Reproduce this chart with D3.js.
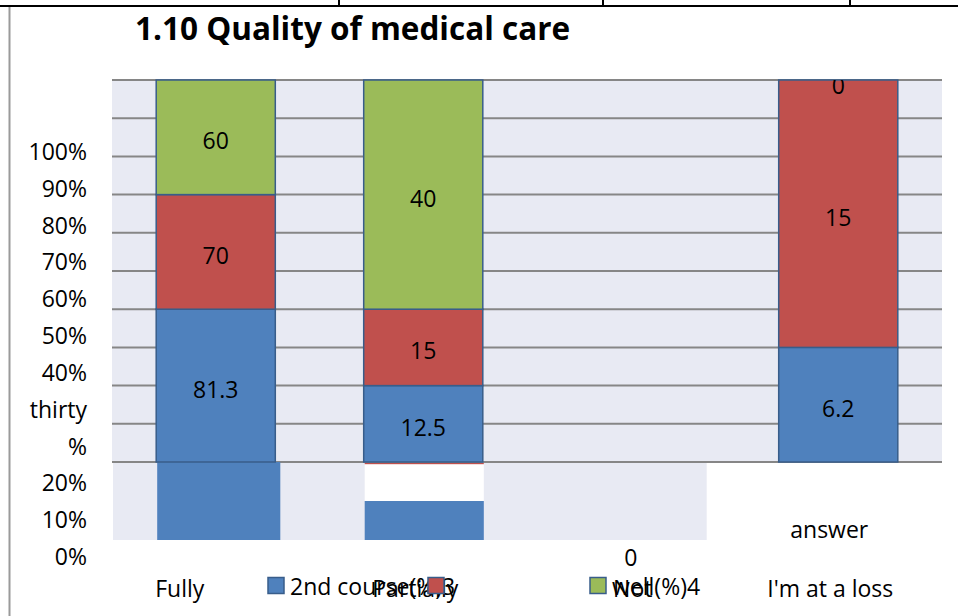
<!DOCTYPE html>
<html>
<head>
<meta charset="utf-8">
<script src="https://cdn.jsdelivr.net/npm/d3@7"></script>
<style>
  body { margin: 0; background: #fff; }
  text { font-family: 'Open Sans', sans-serif; fill: #000; }
</style>
</head>
<body>
<div id="chart"></div>
<script>
// data labels printed on the segments
const categories = ['Fully', 'Partially', 'Not', "I'm at a loss"];
const secondCourse = [81.3, 12.5, 0, 6.2];
const thirdCourse = [70, 15, 0, 15];
const fourthCourse = [60, 40, 0, 0];
// segment heights in % as drawn in the picture
const secondShare = [40, 20, 0, 30];
const thirdShare = [30, 20, 0, 70];
const fourthShare = [30, 60, 0, 0];
const seriesNames = ['2nd course(%)3', '', 'well(%)4'];
const yTickLabels = [['100%'], ['90%'], ['80%'], ['70%'], ['60%'], ['50%'], ['40%'], ['thirty', '%'], ['20%'], ['10%'], ['0%']];
// blue part still visible in the torn lower strip (0..20)
const lowerStrip = [20, 10, 0, 0];
const extraLabels = ['0', 'answer'];

const W = 958, H = 616;
const COLORS = ['#4F81BD', '#C0504D', '#9BBB59'];
const EDGE = '#385D8A';
const BG = '#E8EAF3';
const GRID = '#868686';

let svg = d3.select('#chart')
    .append('svg')
    .attr('width', W)
    .attr('height', H);

// frame lines of the scanned page
svg.append('line').attr('x1', 0).attr('x2', W).attr('y1', 6).attr('y2', 6)
    .attr('stroke', '#000').attr('stroke-width', 2);
[339, 603, 850].forEach(function (x) {
    svg.append('line').attr('x1', x).attr('x2', x).attr('y1', 0).attr('y2', 6)
        .attr('stroke', '#000').attr('stroke-width', 2);
});
svg.append('line').attr('x1', 9.5).attr('x2', 9.5).attr('y1', 7).attr('y2', H)
    .attr('stroke', '#9a9a9a').attr('stroke-width', 2);

svg.append('text')
    .attr('x', 135).attr('y', 40)
    .style('font-weight', 'bold').style('font-size', '31.5px')
    .text('1.10 Quality of medical care');

// scales
let x = d3.scalePoint().domain(categories).range([112, 942]).padding(0.5);
let step = x.step();
let barW = step * 0.574;
let y = d3.scaleLinear().domain([0, 100]).range([462, 80]);
let yLow = d3.scaleLinear().domain([0, 20]).range([540, 462]);

// upper panel
svg.append('rect').attr('x', 112).attr('y', 80).attr('width', 830).attr('height', 382).attr('fill', BG);
svg.append('g').selectAll('line')
    .data(y.ticks(10))
    .join('line')
    .attr('x1', 112).attr('x2', 942)
    .attr('y1', (d) => y(d)).attr('y2', (d) => y(d))
    .attr('stroke', GRID).attr('stroke-width', 2);

// lower strip
svg.append('rect').attr('x', 113).attr('y', 463)
    .attr('width', x('Not') + step * 0.366 - 113).attr('height', 77).attr('fill', BG);
categories.forEach(function (c, i) {
    if (lowerStrip[i] <= 0) return;
    let lx = x(c) - barW / 2 + 1;
    let lw = barW + (i === 0 ? 4 : 0);
    if (lowerStrip[i] < 20) {
        svg.append('rect').attr('x', lx).attr('y', 463).attr('width', lw)
            .attr('height', yLow(lowerStrip[i]) - 463).attr('fill', '#fff');
        svg.append('rect').attr('x', lx).attr('y', 463).attr('width', lw)
            .attr('height', 1.2).attr('fill', COLORS[1]);
    }
    svg.append('rect').attr('x', lx).attr('y', yLow(lowerStrip[i]))
        .attr('width', lw).attr('height', yLow(0) - yLow(lowerStrip[i]))
        .attr('fill', COLORS[0]);
});

// stacked 100% bars
let table = categories.map(function (c, i) {
    return {
        cat: c,
        s0: secondShare[i], s1: thirdShare[i], s2: fourthShare[i],
        labels: [secondCourse[i], thirdCourse[i], fourthCourse[i]]
    };
}).filter((d) => d.s0 + d.s1 + d.s2 > 0);
let layers = d3.stack().keys(['s0', 's1', 's2'])(table);

svg.append('clipPath').attr('id', 'plotclip')
    .append('rect').attr('x', 0).attr('y', 80).attr('width', W).attr('height', H);

let barG = svg.append('g');
let labelG = svg.append('g').attr('clip-path', 'url(#plotclip)');
layers.forEach(function (layer, k) {
    barG.selectAll('rect.s' + k)
        .data(layer)
        .join('rect')
        .attr('x', (d) => x(d.data.cat) - barW / 2)
        .attr('y', (d) => y(d[1]))
        .attr('width', barW)
        .attr('height', (d) => y(d[0]) - y(d[1]))
        .attr('fill', COLORS[k])
        .attr('stroke', EDGE)
        .attr('stroke-width', 1.5);
    labelG.selectAll('text.s' + k)
        .data(layer)
        .join('text')
        .attr('x', (d) => x(d.data.cat))
        .attr('y', (d) => (y(d[0]) + y(d[1])) / 2 + (d[1] === d[0] ? 5 : 3))
        .attr('text-anchor', 'middle')
        .attr('dominant-baseline', 'central')
        .style('font-size', '23px')
        .text((d) => d.data.labels[k]);
});

// y labels (percent axis, one label wrapped on two lines)
let lineY = d3.scaleLinear().domain([0, 11]).range([160, 565]);
let line = 0;
yTickLabels.forEach(function (lines) {
    lines.forEach(function (t) {
        svg.append('text').attr('x', 87).attr('y', lineY(line))
            .attr('text-anchor', 'end').style('font-size', '23px').text(t);
        line++;
    });
});

// category labels
const catShift = [-36, -8, 2, -8];
svg.append('g').selectAll('text')
    .data(categories)
    .join('text')
    .attr('x', (d, i) => x(d) + catShift[i])
    .attr('y', 597)
    .attr('text-anchor', 'middle')
    .style('font-size', '23px')
    .text((d) => d);
svg.append('text').attr('x', x('Not')).attr('y', 566)
    .attr('text-anchor', 'middle').style('font-size', '23px').text(extraLabels[0]);
svg.append('text').attr('x', x("I'm at a loss") - 9).attr('y', 538)
    .attr('text-anchor', 'middle').style('font-size', '23px').text(extraLabels[1]);

// legend
const legendX = [268, 428, 590];
seriesNames.forEach(function (name, k) {
    svg.append('rect').attr('x', legendX[k]).attr('y', 577.5).attr('width', 16).attr('height', 16)
        .attr('fill', COLORS[k]).attr('stroke', EDGE).attr('stroke-width', 1.5);
    if (name) {
        svg.append('text').attr('x', legendX[k] + 22).attr('y', 595)
            .style('font-size', '23px').text(name);
    }
});
</script>
</body>
</html>
